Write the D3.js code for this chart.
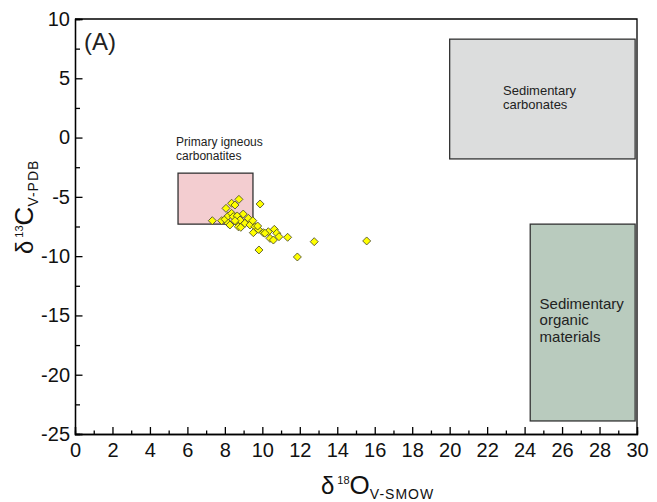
<!DOCTYPE html>
<html>
<head>
<meta charset="utf-8">
<script src="https://cdn.jsdelivr.net/npm/d3@7"></script>
<style>
  body { margin: 0; background: #fff; }
  svg { font-family: "Liberation Sans", Arial, sans-serif; }
</style>
</head>
<body>
<div id="chart"></div>
<script>
// d18O (V-SMOW) and d13C (V-PDB) values
var d18O = [7.33, 7.83, 8.01, 8.06, 8.36, 8.54, 8.75, 9.88, 8.18, 8.36,
  8.45, 8.18, 8.27, 8.63, 8.72, 8.85, 8.98, 9.07, 9.25, 9.34,
  9.49, 9.61, 9.52, 9.78, 10.05, 10.32, 8.66, 8.81, 8.54, 9.75,
  10.14, 10.64, 10.77, 10.89, 10.41, 10.59, 11.35, 12.77, 15.57, 9.82,
  11.87];
var d13C = [-7.01, -7.01, -6.89, -5.97, -5.54, -5.69, -5.21, -5.60, -6.61, -6.39,
  -6.67, -7.23, -7.37, -7.10, -7.52, -7.57, -6.45, -7.23, -6.81, -7.37,
  -7.01, -7.52, -8.02, -7.74, -8.02, -7.94, -6.61, -6.95, -7.01, -7.46,
  -8.07, -7.74, -8.07, -8.36, -8.50, -8.64, -8.41, -8.78, -8.72, -9.48,
  -10.07];

// reference fields: [x0, x1, y0, y1]
var fieldNames = ['Primary igneous carbonatites', 'Sedimentary carbonates', 'Sedimentary organic materials'];
var fieldX0 = [5.5, 20, 24.3];
var fieldX1 = [9.5, 29.9, 29.9];
var fieldY0 = [-7.3, -1.8, -23.9];
var fieldY1 = [-3, 8.3, -7.3];
var fieldColors = ['#f3cdd0', '#dcdddd', '#b9cbbe'];

var xMajor = d3.range(0, 31, 2);
var xMinor = d3.range(1, 30, 2);
var yMajor = [-25, -20, -15, -10, -5, 0, 5, 10];
var yMinor = [-22.5, -17.5, -12.5, -7.5, -2.5, 2.5, 7.5];

var svgWidth = 657;
var svgHeight = 502;

var margin = { top: 19, right: 20, bottom: 68, left: 75 };
var width = svgWidth - margin.left - margin.right;
var height = svgHeight - margin.top - margin.bottom;

var svg = d3.select('#chart')
  .append('svg')
  .attr('width', svgWidth)
  .attr('height', svgHeight);

var g = svg.append('g')
  .attr('transform', `translate(${margin.left}, ${margin.top})`);

var x = d3.scaleLinear().domain([0, 30]).range([0, width]);
var y = d3.scaleLinear().domain([-25, 10]).range([height, 0]);

// plain hyphen for negatives, like the original
var fmt = d => String(d);

// field boxes
g.selectAll('rect.field')
  .data(fieldNames)
  .enter()
  .append('rect')
  .attr('class', 'field')
  .attr('x', (d, i) => x(fieldX0[i]))
  .attr('y', (d, i) => y(fieldY1[i]))
  .attr('width', (d, i) => x(fieldX1[i]) - x(fieldX0[i]))
  .attr('height', (d, i) => y(fieldY0[i]) - y(fieldY1[i]))
  .attr('fill', (d, i) => fieldColors[i])
  .attr('stroke', '#333')
  .attr('stroke-width', 1.3);

// field labels
function multiLine(px, py, lines, size, gap) {
  var t = g.append('text')
    .attr('x', px)
    .attr('y', py)
    .attr('font-size', size)
    .attr('fill', '#222');
  lines.forEach(function(l, i) {
    t.append('tspan').attr('x', px).attr('dy', i ? gap : 0).text(l);
  });
}
multiLine(x(5.45) - 1, y(-0.75), ['Primary igneous', 'carbonatites'], 12, 14);
multiLine(x(22.85), y(3.55), ['Sedimentary', 'carbonates'], 13, 13.5);
multiLine(x(24.8), y(-14.45), ['Sedimentary', 'organic', 'materials'], 15, 16.3);

// axes with inward ticks
function styleAxis(sel) {
  sel.selectAll('path').attr('stroke', '#000').attr('stroke-width', 1.3);
  sel.selectAll('line').attr('stroke', '#000').attr('stroke-width', 1.3);
  sel.selectAll('text').attr('font-size', 20).attr('fill', '#111')
    .attr('font-family', '"Liberation Sans", Arial, sans-serif');
}

g.append('g')
  .attr('transform', `translate(0, ${height})`)
  .call(d3.axisBottom(x).tickValues(xMinor).tickSize(-3.5).tickFormat(''))
  .call(styleAxis);

g.append('g')
  .attr('transform', `translate(0, ${height})`)
  .call(d3.axisBottom(x).tickValues(xMajor).tickSize(-7).tickPadding(9).tickFormat(fmt))
  .call(styleAxis);

g.append('g')
  .call(d3.axisLeft(y).tickValues(yMinor).tickSize(-5).tickFormat(''))
  .call(styleAxis);

g.append('g')
  .call(d3.axisLeft(y).tickValues(yMajor).tickSize(-7.5).tickPadding(5).tickFormat(fmt))
  .call(styleAxis);

// frame top and right
g.append('path')
  .attr('d', `M0,0H${width}V${height}`)
  .attr('fill', 'none')
  .attr('stroke', '#000')
  .attr('stroke-width', 1.3);

// data points
var diamond = d3.symbol().type(d3.symbolSquare).size(32);
g.selectAll('path.pt')
  .data(d18O)
  .enter()
  .append('path')
  .attr('class', 'pt')
  .attr('d', diamond)
  .attr('transform', (d, i) => `translate(${x(d)}, ${y(d13C[i])}) rotate(45)`)
  .attr('fill', '#ffff00')
  .attr('stroke', '#4a4a2a')
  .attr('stroke-width', 0.8);

// panel label
svg.append('text')
  .attr('x', 84)
  .attr('y', 50)
  .attr('font-size', 24)
  .attr('fill', '#222')
  .text('(A)');

// x axis title
var xt = svg.append('text')
  .attr('x', 321)
  .attr('y', 494)
  .attr('fill', '#111');
xt.append('tspan').attr('font-size', 24).text('δ');
xt.append('tspan').attr('font-size', 11).attr('dy', -10).attr('dx', 3).text('18');
xt.append('tspan').attr('font-size', 26).attr('dy', 10).text('O');
xt.append('tspan').attr('font-size', 14).attr('dy', 5).attr('letter-spacing', 1).text('V-SMOW');

// y axis title
var yt = svg.append('text')
  .attr('transform', 'translate(33, 254) rotate(-90)')
  .attr('fill', '#111');
yt.append('tspan').attr('font-size', 24).text('δ');
yt.append('tspan').attr('font-size', 11).attr('dy', -10).attr('dx', 3).text('13');
yt.append('tspan').attr('font-size', 26).attr('dy', 10).text('C');
yt.append('tspan').attr('font-size', 14).attr('dy', 5).attr('letter-spacing', 1).text('V-PDB');
</script>
</body>
</html>
